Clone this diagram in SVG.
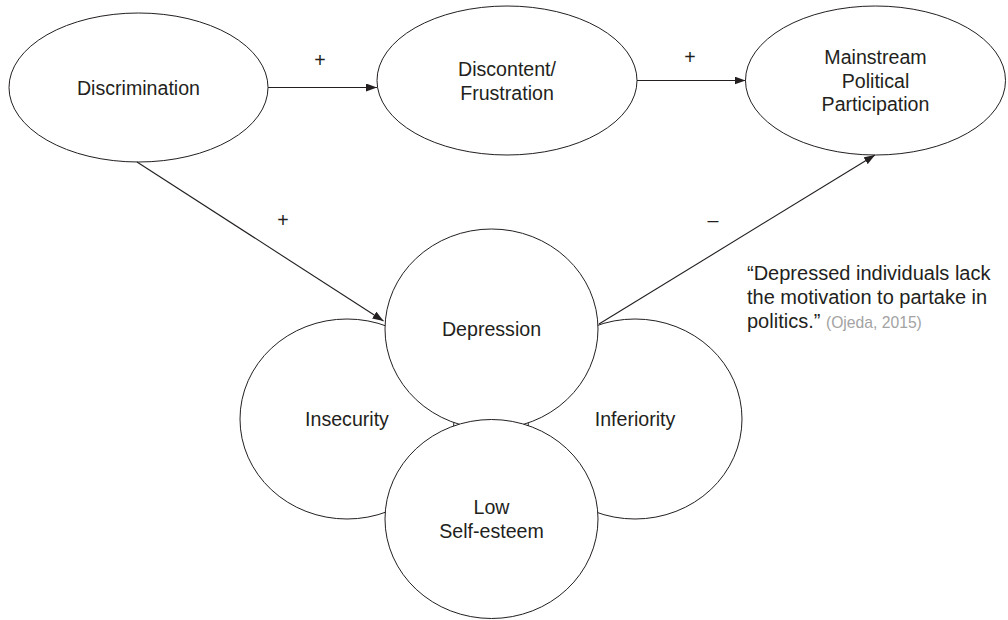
<svg xmlns="http://www.w3.org/2000/svg" width="1008" height="620" viewBox="0 0 1008 620">
<style>
.node{fill:#fff;stroke:#231f20;stroke-width:1}
.lbl{font-family:"Liberation Sans",Arial,sans-serif;font-size:19.6px;fill:#231f20;text-anchor:middle}
.sign{font-family:"Liberation Sans",Arial,sans-serif;font-size:19.6px;fill:#231f20;text-anchor:middle}
.quote{font-family:"Liberation Sans",Arial,sans-serif;font-size:20px;fill:#231f20}
.cite{font-size:15.7px;fill:#a3a3a3}
.conn{stroke:#231f20;stroke-width:1.1;fill:none;marker-end:url(#arr)}
</style>
<defs>
<marker id="arr" markerUnits="userSpaceOnUse" markerWidth="11" markerHeight="8" refX="11" refY="4" orient="auto">
<path d="M0,0 L11,4 L0,8 z" fill="#231f20"/>
</marker>
</defs>
<rect width="1008" height="620" fill="#fff"/>
<g id="discrimination">
<ellipse class="node" cx="138.5" cy="87.5" rx="129.5" ry="74.5"/>
<text class="lbl" x="138.5" y="94.5">Discrimination</text>
</g>
<g id="discontent">
<ellipse class="node" cx="507" cy="80.5" rx="130" ry="74.5"/>
<text class="lbl" x="507" y="76">Discontent/</text>
<text class="lbl" x="507" y="99.5">Frustration</text>
</g>
<g id="mainstream">
<ellipse class="node" cx="875.5" cy="80.5" rx="130" ry="74.5"/>
<text class="lbl" x="875.5" y="64">Mainstream</text>
<text class="lbl" x="875.5" y="87.5">Political</text>
<text class="lbl" x="875.5" y="111">Participation</text>
</g>
<g id="insecurity">
<ellipse class="node" cx="347" cy="419" rx="107" ry="100"/>
<text class="lbl" x="347" y="426">Insecurity</text>
</g>
<g id="inferiority">
<ellipse class="node" cx="635" cy="419" rx="107" ry="100"/>
<text class="lbl" x="635" y="426">Inferiority</text>
</g>
<g id="depression">
<ellipse class="node" cx="491.5" cy="329" rx="106.5" ry="100"/>
<text class="lbl" x="491.5" y="335.5">Depression</text>
</g>
<g id="low-self-esteem">
<ellipse class="node" cx="491.5" cy="519" rx="106.5" ry="99.5"/>
<text class="lbl" x="491.5" y="514">Low</text>
<text class="lbl" x="491.5" y="538">Self-esteem</text>
</g>
<g id="connectors">
<line class="conn" x1="268" y1="87.5" x2="377" y2="87.5"/>
<line class="conn" x1="637" y1="80.5" x2="745.5" y2="80.5"/>
<line class="conn" x1="137" y1="162" x2="383.5" y2="321"/>
<line class="conn" x1="599" y1="324" x2="875" y2="155"/>
<text class="sign" x="320" y="67">+</text>
<text class="sign" x="690" y="64">+</text>
<text class="sign" x="283" y="227">+</text>
<text class="sign" x="713" y="227">–</text>
</g>
<g id="quote">
<text class="quote" x="747" y="280">“Depressed individuals lack</text>
<text class="quote" x="747" y="304">the motivation to partake in</text>
<text class="quote" x="747" y="328">politics.” <tspan class="cite">(Ojeda, 2015)</tspan></text>
</g>
</svg>
